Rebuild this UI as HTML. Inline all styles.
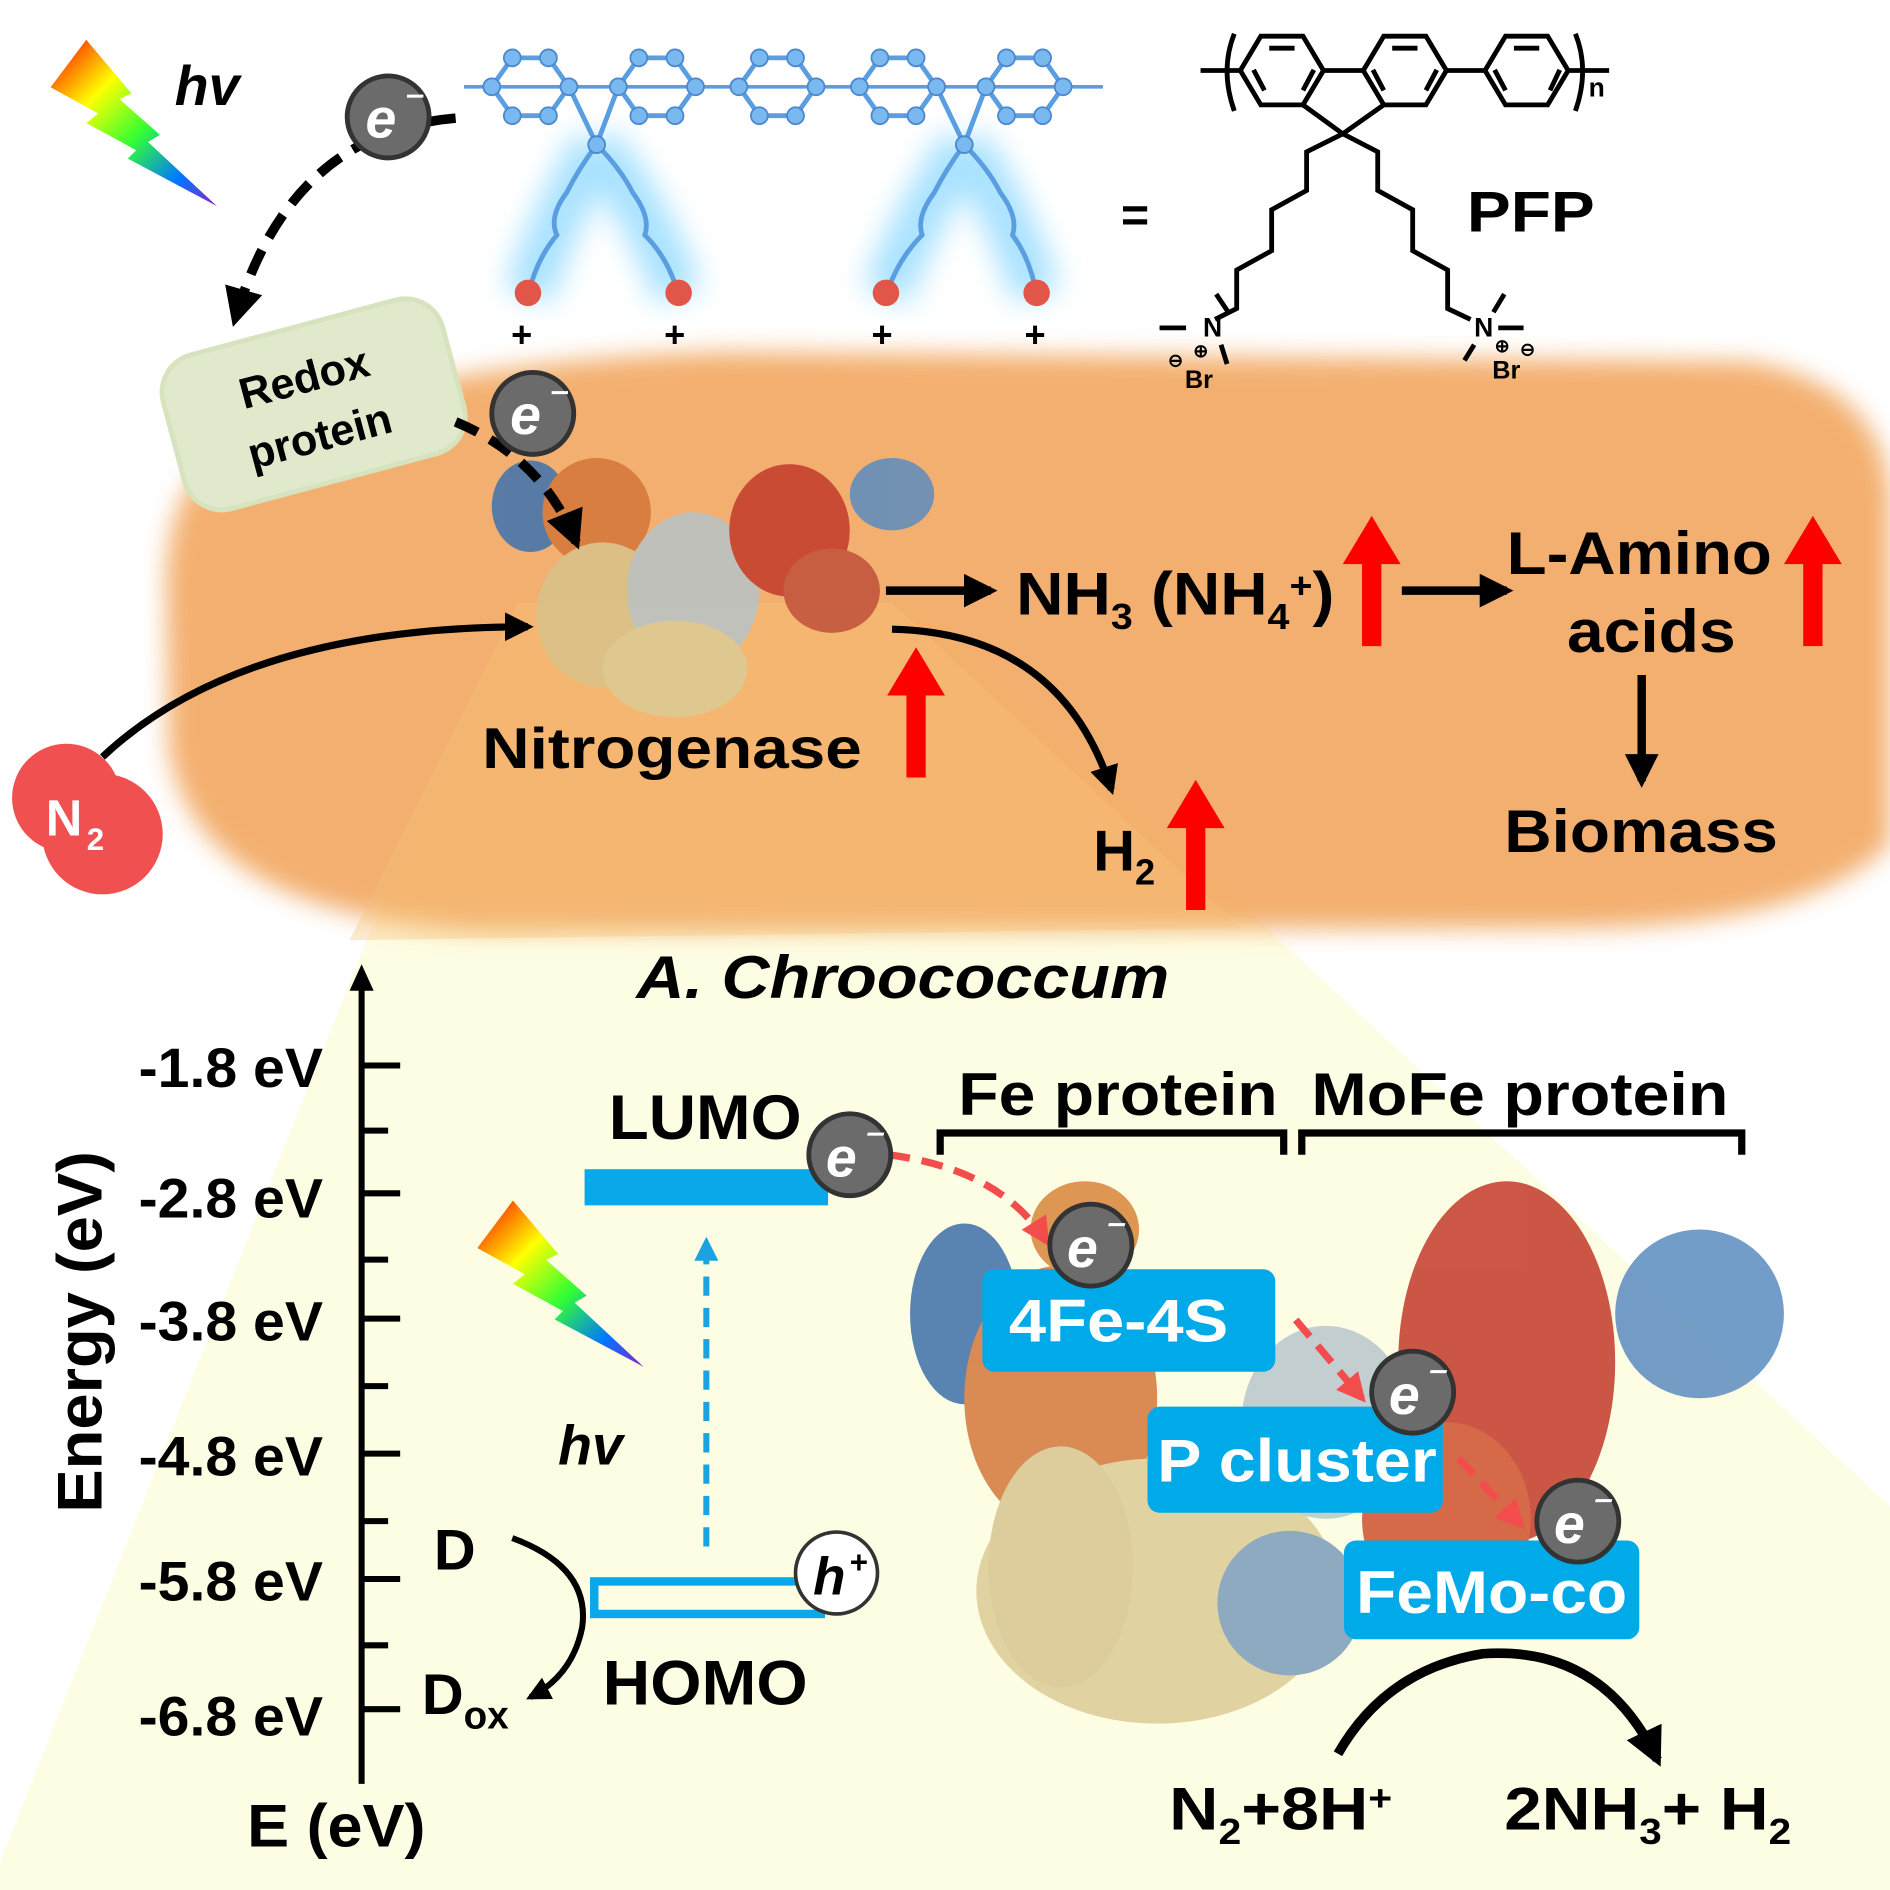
<!DOCTYPE html>
<html><head><meta charset="utf-8"><style>
html,body{margin:0;padding:0;background:#fff;}
svg{display:block;}
text{font-family:"Liberation Sans",Arial,sans-serif;font-weight:bold;}
</style></head><body>
<svg width="1890" height="1890" viewBox="0 0 1568 1568" preserveAspectRatio="none" xmlns="http://www.w3.org/2000/svg">
<defs>
<linearGradient id="rb" x1="0" y1="0" x2="1" y2="1">
<stop offset="0" stop-color="#f00"/><stop offset="0.3" stop-color="#ff0"/><stop offset="0.55" stop-color="#3f3"/><stop offset="0.8" stop-color="#07f"/><stop offset="1" stop-color="#82c"/>
</linearGradient>
<filter id="glow" x="-20%" y="-20%" width="140%" height="140%"><feGaussianBlur stdDeviation="12"/></filter>
<filter id="bl" x="-10%" y="-10%" width="120%" height="120%"><feGaussianBlur stdDeviation="10"/></filter>
<marker id="ah" viewBox="0 0 10 10" refX="8" refY="5" markerWidth="4" markerHeight="4" orient="auto"><path d="M0,0L10,5L0,10z" fill="#000"/></marker>
<marker id="ahr" viewBox="0 0 10 10" refX="8" refY="5" markerWidth="4" markerHeight="4" orient="auto"><path d="M0,0L10,5L0,10z" fill="#f24c4c"/></marker>
<marker id="ahb" viewBox="0 0 10 10" refX="8" refY="5" markerWidth="4" markerHeight="4" orient="auto"><path d="M0,0L10,5L0,10z" fill="#1aa3e0"/></marker>
<symbol id="bolt" viewBox="0 0 140 140"><path d="M30,0 L68,45 L58,50 L92,80 L82,86 L140,140 L65,100 L72,93 L30,70 L40,62 L0,40 Z" fill="url(#rb)"/></symbol>
</defs>

<!-- yellow zone -->
<polygon points="430,500 760,500 1568,1250 1568,1568 0,1568 0,1545 300,790" fill="#fdfde3"/>
<!-- bacterium -->
<path d="M190,370 Q330,300 600,292 L1450,300 Q1568,320 1568,420 L1568,700 Q1500,770 1300,770 L400,772 Q160,760 140,620 L138,480 Q140,400 190,370 Z" fill="#f2a760" opacity="0.9" filter="url(#bl)"/>
<polygon points="430,500 740,500 1030,770 290,780" fill="#f6c27a" opacity="0.35"/>

<!-- top-left lightning -->
<use href="#bolt" x="42" y="32" width="138" height="140"/>
<text x="145" y="87" font-size="46" font-style="italic">hv</text>

<!-- polymer glow -->
<g>
<path d="M395,72 L905,72" stroke="#8ad8ff" stroke-width="100" filter="url(#glow)" opacity="0.8" stroke-linecap="round"/>
<g stroke="#8ad8ff" stroke-width="40" fill="none" filter="url(#glow)" opacity="0.75">
<path d="M495,120 Q460,180 438,245 M495,120 Q540,180 563,245 M800,120 Q760,180 735,245 M800,120 Q840,180 860,245"/>
</g>
<g stroke="#5a9de0" stroke-width="4" fill="none">
<path d="M385,72 L915,72" stroke-width="3"/>
<polygon points="425,48 455,48 472,72 455,96 425,96 408,72"/>
<polygon points="530,48 560,48 577,72 560,96 530,96 513,72"/>
<polygon points="630,48 660,48 677,72 660,96 630,96 613,72"/>
<polygon points="730,48 760,48 777,72 760,96 730,96 713,72"/>
<polygon points="835,48 865,48 882,72 865,96 835,96 818,72"/>
<path d="M472,72 L495,120 L513,72 M777,72 L800,120 L818,72"/>
<path d="M495,120 Q480,140 470,160 Q455,180 462,195 Q445,215 438,245 M495,120 Q515,140 525,160 Q540,180 535,195 Q555,215 563,245 M800,120 Q785,140 775,160 Q760,180 765,195 Q745,215 735,245 M800,120 Q820,140 830,160 Q845,180 840,195 Q855,215 860,245"/>
</g>
<g fill="#7ab8f0" stroke="#4a88d0" stroke-width="1.5">
<circle cx="425" cy="48" r="7"/><circle cx="455" cy="48" r="7"/><circle cx="472" cy="72" r="7"/><circle cx="455" cy="96" r="7"/><circle cx="425" cy="96" r="7"/><circle cx="408" cy="72" r="7"/>
<circle cx="530" cy="48" r="7"/><circle cx="560" cy="48" r="7"/><circle cx="577" cy="72" r="7"/><circle cx="560" cy="96" r="7"/><circle cx="530" cy="96" r="7"/><circle cx="513" cy="72" r="7"/>
<circle cx="630" cy="48" r="7"/><circle cx="660" cy="48" r="7"/><circle cx="677" cy="72" r="7"/><circle cx="660" cy="96" r="7"/><circle cx="630" cy="96" r="7"/><circle cx="613" cy="72" r="7"/>
<circle cx="730" cy="48" r="7"/><circle cx="760" cy="48" r="7"/><circle cx="777" cy="72" r="7"/><circle cx="760" cy="96" r="7"/><circle cx="730" cy="96" r="7"/><circle cx="713" cy="72" r="7"/>
<circle cx="835" cy="48" r="7"/><circle cx="865" cy="48" r="7"/><circle cx="882" cy="72" r="7"/><circle cx="865" cy="96" r="7"/><circle cx="835" cy="96" r="7"/><circle cx="818" cy="72" r="7"/>
<circle cx="495" cy="120" r="7"/><circle cx="800" cy="120" r="7"/>
</g>
<g fill="#e2564a"><circle cx="438" cy="243" r="11"/><circle cx="563" cy="243" r="11"/><circle cx="735" cy="243" r="11"/><circle cx="860" cy="243" r="11"/></g>
<g font-size="30"><text x="424" y="288">+</text><text x="551" y="288">+</text><text x="723" y="288">+</text><text x="850" y="288">+</text></g>
</g>

<!-- PFP structure -->
<text x="930" y="192" font-size="40" fill="#000">=</text>
<g stroke="#000" stroke-width="4" fill="none" stroke-linejoin="miter">
<path d="M996,58.5 L1029,58.5 M1098,58.5 L1131,58.5 M1200,58.5 L1232,58.5 M1301,58.5 L1335,58.5"/>
<path d="M1024,28 Q1012,58 1024,92 M1307,28 Q1319,58 1307,92"/>
<polygon points="1029,58.5 1046,30 1081,30 1098,58.5 1081,87 1046,87"/>
<polygon points="1131,58.5 1148,30 1183,30 1200,58.5 1183,87 1148,87"/>
<polygon points="1232,58.5 1249,30 1284,30 1301,58.5 1284,87 1249,87"/>
<path d="M1053,40 L1074,40 M1081,75 L1090,58 M1040,58 L1049,75"/>
<path d="M1155,40 L1176,40 M1183,75 L1192,58 M1139,58 L1148,75"/>
<path d="M1256,40 L1277,40 M1286,75 L1294,58 M1240,58 L1249,75"/>
<path d="M1081,87 L1114,111 L1148,87"/>
<path d="M1114,111 L1084,126 L1084,158 L1055,174 L1055,208 L1026,224 L1026,256 L1008,265"/>
<path d="M1114,111 L1143,126 L1143,158 L1172,174 L1172,208 L1201,224 L1201,256 L1220,265"/>
<path d="M1009,244 L1019,259 M962,272 L984,272 M1013,286 L1018,302"/>
<path d="M1248,244 L1239,259 M1243,272 L1264,272 M1223,286 L1215,299"/>
</g>
<g fill="#000">
<text x="998" y="279" font-size="22">N</text>
<text x="1223" y="279" font-size="22">N</text>
<text x="983" y="322" font-size="21">Br</text>
<text x="1238" y="314" font-size="21">Br</text>
<text x="969" y="304" font-size="15">⊖</text><text x="990" y="296" font-size="15">⊕</text>
<text x="1240" y="292" font-size="15">⊕</text><text x="1261" y="295" font-size="15">⊖</text>
<text x="1318" y="80" font-size="22">n</text>
<text x="1217" y="192" font-size="48" textLength="106" lengthAdjust="spacingAndGlyphs">PFP</text>
</g>

<!-- dashed arc e- to redox -->
<path d="M378,98 Q240,110 195,265" stroke="#000" stroke-width="8" fill="none" stroke-dasharray="22,12" marker-end="url(#ah)"/>
<!-- redox protein -->
<g transform="rotate(-15 258 335)">
<rect x="140" y="270" width="240" height="132" rx="32" fill="#e1e9cc" stroke="#d6e3be" stroke-width="4"/>
<text x="258" y="325" font-size="36" text-anchor="middle">Redox</text>
<text x="258" y="375" font-size="36" text-anchor="middle">protein</text>
</g>

<!-- nitrogenase blob -->
<g opacity="0.85">
<ellipse cx="440" cy="420" rx="32" ry="38" fill="#3d72b0"/>
<ellipse cx="495" cy="425" rx="45" ry="45" fill="#d4763a"/>
<ellipse cx="500" cy="510" rx="55" ry="60" fill="#d8c28a"/>
<ellipse cx="575" cy="490" rx="55" ry="65" fill="#b8c4c8"/>
<ellipse cx="655" cy="440" rx="50" ry="55" fill="#c33a2a"/>
<ellipse cx="740" cy="410" rx="35" ry="30" fill="#5a8cc0"/>
<ellipse cx="690" cy="490" rx="40" ry="35" fill="#c0503a"/>
<ellipse cx="560" cy="555" rx="60" ry="40" fill="#dccc96"/>
</g>
<path d="M378,350 Q450,380 478,450" stroke="#000" stroke-width="8" fill="none" stroke-dasharray="20,12" marker-end="url(#ah)"/>

<!-- e- circles -->
<circle cx="322" cy="97" r="34" fill="#6b6b6b" stroke="#333" stroke-width="4"/>
<text x="316" y="114" font-size="46" fill="#fff" text-anchor="middle" font-style="italic">e</text><text x="336" y="96" font-size="32" fill="#fff">⁻</text>
<circle cx="442" cy="343" r="34" fill="#6b6b6b" stroke="#333" stroke-width="4"/>
<text x="436" y="360" font-size="46" fill="#fff" text-anchor="middle" font-style="italic">e</text><text x="456" y="342" font-size="32" fill="#fff">⁻</text>

<!-- N2 -->
<circle cx="55" cy="662" r="45" fill="#f05050"/><circle cx="85" cy="692" r="50" fill="#f05050"/>
<text x="38" y="693" font-size="42" fill="#fff">N</text><text x="72" y="705" font-size="26" fill="#fff">2</text>
<path d="M85,628 Q200,520 438,520" stroke="#000" stroke-width="6" fill="none" marker-end="url(#ah)"/>

<text x="400" y="637" font-size="48" textLength="315" lengthAdjust="spacingAndGlyphs">Nitrogenase</text>
<path d="M735,490 L822,490" stroke="#000" stroke-width="7" marker-end="url(#ah)"/>
<path d="M740,522 Q880,525 922,655" stroke="#000" stroke-width="6" fill="none" marker-end="url(#ah)"/>
<text x="843" y="510" font-size="50" textLength="264" lengthAdjust="spacingAndGlyphs">NH<tspan font-size="30" dy="12">3</tspan><tspan dy="-12"> (NH</tspan><tspan font-size="30" dy="12">4</tspan><tspan font-size="30" dy="-26">+</tspan><tspan dy="14">)</tspan></text>
<path d="M1163,490 L1250,490" stroke="#000" stroke-width="7" marker-end="url(#ah)"/>
<text x="1250" y="476" font-size="50" textLength="220" lengthAdjust="spacingAndGlyphs">L-Amino</text>
<text x="1300" y="541" font-size="50" textLength="140" lengthAdjust="spacingAndGlyphs">acids</text>
<path d="M1362,560 L1362,648" stroke="#000" stroke-width="7" marker-end="url(#ah)"/>
<text x="1248" y="707" font-size="50" textLength="227" lengthAdjust="spacingAndGlyphs">Biomass</text>
<text x="907" y="722" font-size="48">H<tspan font-size="30" dy="12">2</tspan></text>

<!-- red up arrows -->
<g fill="#f00">
<path d="M1130,536 L1146,536 L1146,468 L1162,468 L1138,428 L1114,468 L1130,468 Z"/>
<path d="M1496,536 L1512,536 L1512,468 L1528,468 L1504,428 L1480,468 L1496,468 Z"/>
<path d="M752,645 L768,645 L768,577 L784,577 L760,537 L736,577 L752,577 Z"/>
<path d="M984,755 L1000,755 L1000,687 L1016,687 L992,647 L968,687 L984,687 Z"/>
</g>

<text x="528" y="828" font-size="50" font-style="italic" textLength="442" lengthAdjust="spacingAndGlyphs">A. Chroococcum</text>

<!-- energy axis -->
<path d="M300,1480 L300,812" stroke="#000" stroke-width="5"/>
<path d="M290,822 L300,800 L310,822 Z" fill="#000"/>
<g stroke="#000" stroke-width="5">
<path d="M300,884 L332,884 M300,990 L332,990 M300,1094 L332,1094 M300,1206 L332,1206 M300,1310 L332,1310 M300,1418 L332,1418"/>
<path d="M300,938 L322,938 M300,1045 L322,1045 M300,1150 L322,1150 M300,1262 L322,1262 M300,1365 L322,1365"/>
</g>
<g font-size="46" text-anchor="end">
<text x="268" y="902" textLength="153" lengthAdjust="spacingAndGlyphs">-1.8 eV</text>
<text x="268" y="1010" textLength="153" lengthAdjust="spacingAndGlyphs">-2.8 eV</text>
<text x="268" y="1112" textLength="153" lengthAdjust="spacingAndGlyphs">-3.8 eV</text>
<text x="268" y="1224" textLength="153" lengthAdjust="spacingAndGlyphs">-4.8 eV</text>
<text x="268" y="1328" textLength="153" lengthAdjust="spacingAndGlyphs">-5.8 eV</text>
<text x="268" y="1440" textLength="153" lengthAdjust="spacingAndGlyphs">-6.8 eV</text>
</g>
<text transform="translate(84,1105) rotate(-90)" font-size="52" text-anchor="middle" textLength="300" lengthAdjust="spacingAndGlyphs">Energy (eV)</text>
<text x="205" y="1532" font-size="50" textLength="148" lengthAdjust="spacingAndGlyphs">E (eV)</text>

<text x="505" y="945" font-size="52" textLength="160" lengthAdjust="spacingAndGlyphs">LUMO</text>
<rect x="485" y="970" width="202" height="30" fill="#0aa8e8"/>
<use href="#bolt" x="396" y="995" width="138" height="140"/>
<text x="463" y="1215" font-size="46" font-style="italic">hv</text>
<path d="M586,1283 L586,1030" stroke="#1aa3e0" stroke-width="5" stroke-dasharray="16,10" fill="none" marker-end="url(#ahb)"/>
<rect x="493" y="1312" width="188" height="27" fill="none" stroke="#0aa8e8" stroke-width="7"/>
<circle cx="694" cy="1305" r="34" fill="#fff" stroke="#333" stroke-width="3"/>
<text x="688" y="1323" font-size="44" text-anchor="middle" font-style="italic">h</text><text x="705" y="1305" font-size="26">+</text>
<text x="360" y="1302" font-size="48">D</text>
<text x="350" y="1422" font-size="48">D<tspan font-size="32" dy="12">ox</tspan></text>
<path d="M425,1276 Q490,1300 483,1350 Q475,1390 440,1408" stroke="#000" stroke-width="5" fill="none" marker-end="url(#ah)"/>
<text x="500" y="1414" font-size="52" textLength="170" lengthAdjust="spacingAndGlyphs">HOMO</text>

<!-- big protein -->
<g opacity="0.85">
<ellipse cx="800" cy="1090" rx="45" ry="75" fill="#3d6ea8"/>
<ellipse cx="880" cy="1160" rx="80" ry="110" fill="#d4763a"/>
<ellipse cx="960" cy="1320" rx="150" ry="110" fill="#dccc96"/>
<ellipse cx="880" cy="1300" rx="60" ry="100" fill="#d8c490"/>
<ellipse cx="1100" cy="1180" rx="70" ry="80" fill="#b8c6cc"/>
<ellipse cx="1250" cy="1130" rx="90" ry="150" fill="#c33a2a"/>
<ellipse cx="1200" cy="1260" rx="70" ry="80" fill="#d0502e"/>
<ellipse cx="1410" cy="1090" rx="70" ry="70" fill="#5a8cc0"/>
<ellipse cx="1070" cy="1330" rx="60" ry="60" fill="#7a9cba"/>
<ellipse cx="900" cy="1020" rx="45" ry="40" fill="#d8863a"/>
</g>
<path d="M737,958 Q830,970 868,1030" stroke="#f24c4c" stroke-width="6" stroke-dasharray="18,10" fill="none" marker-end="url(#ahr)"/>
<path d="M1075,1095 L1130,1160" stroke="#f24c4c" stroke-width="6" stroke-dasharray="18,10" fill="none" marker-end="url(#ahr)"/>
<path d="M1210,1210 L1262,1265" stroke="#f24c4c" stroke-width="6" stroke-dasharray="18,10" fill="none" marker-end="url(#ahr)"/>

<g fill="#00aae8">
<rect x="815" y="1053" width="243" height="85" rx="10"/>
<rect x="952" y="1167" width="245" height="88" rx="10"/>
<rect x="1115" y="1278" width="245" height="82" rx="10"/>
</g>
<g fill="#fff" font-size="50">
<text x="837" y="1113" textLength="182" lengthAdjust="spacingAndGlyphs">4Fe-4S</text>
<text x="960" y="1229" textLength="232" lengthAdjust="spacingAndGlyphs">P cluster</text>
<text x="1125" y="1338" textLength="225" lengthAdjust="spacingAndGlyphs">FeMo-co</text>
</g>
<g fill="#6b6b6b" stroke="#333" stroke-width="4">
<circle cx="705" cy="958" r="34"/>
<circle cx="905" cy="1033" r="34"/>
<circle cx="1172" cy="1155" r="34"/>
<circle cx="1309" cy="1262" r="34"/>
</g>
<g fill="#fff" font-size="46" font-style="italic">
<text x="698" y="976" text-anchor="middle">e</text><text x="714" y="957" font-size="32">⁻</text>
<text x="898" y="1051" text-anchor="middle">e</text><text x="914" y="1032" font-size="32">⁻</text>
<text x="1165" y="1173" text-anchor="middle">e</text><text x="1181" y="1154" font-size="32">⁻</text>
<text x="1302" y="1280" text-anchor="middle">e</text><text x="1318" y="1261" font-size="32">⁻</text>
</g>

<text x="795" y="925" font-size="50" textLength="265" lengthAdjust="spacingAndGlyphs">Fe protein</text>
<text x="1088" y="925" font-size="50" textLength="346" lengthAdjust="spacingAndGlyphs">MoFe protein</text>
<path d="M780,958 L780,940 L1065,940 L1065,958 M1080,958 L1080,940 L1445,940 L1445,958" stroke="#000" stroke-width="6" fill="none"/>
<path d="M1110,1455 Q1150,1385 1230,1372 Q1330,1365 1375,1460" stroke="#000" stroke-width="8" fill="none" marker-end="url(#ah)"/>
<text x="970" y="1518" font-size="50" textLength="185" lengthAdjust="spacingAndGlyphs">N<tspan font-size="30" dy="12">2</tspan><tspan dy="-12">+8H</tspan><tspan font-size="30" dy="-16">+</tspan></text>
<text x="1248" y="1518" font-size="50" textLength="238" lengthAdjust="spacingAndGlyphs">2NH<tspan font-size="30" dy="12">3</tspan><tspan dy="-12">+ H</tspan><tspan font-size="30" dy="12">2</tspan></text>
</svg>
</body></html>
